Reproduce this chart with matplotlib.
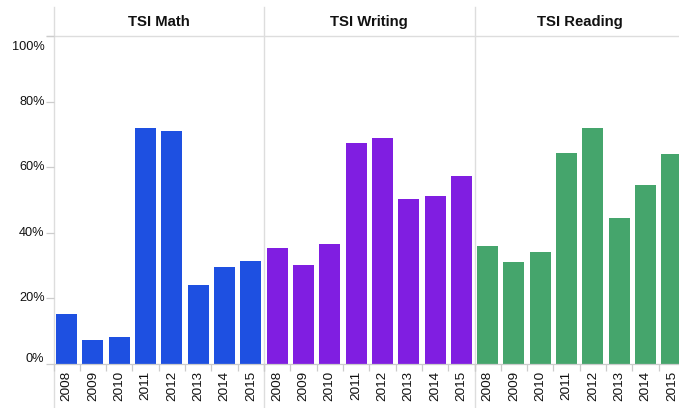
import matplotlib
matplotlib.use("Agg")
import matplotlib.pyplot as plt
from matplotlib.lines import Line2D
from matplotlib.transforms import ScaledTranslation

plt.rcParams['font.family'] = ['Liberation Sans', 'DejaVu Sans']

years = ["2008", "2009", "2010", "2011", "2012", "2013", "2014", "2015"]
subjects = ["TSI Math", "TSI Writing", "TSI Reading"]
math_vals = [15.3, 7.3, 8.2, 72.1, 71.1, 24.1, 29.6, 31.5]
writing_vals = [35.4, 30.2, 36.6, 67.5, 69.0, 50.4, 51.3, 57.4]
reading_vals = [36.0, 31.1, 34.2, 64.4, 72.1, 44.6, 54.6, 64.1]
colors = ["#1E50E1", "#801EE1", "#45A56C"]
y_ticks = [0, 20, 40, 60, 80, 100]

W, H = 679, 408
fig = plt.figure(figsize=(W / 100, H / 100), dpi=100)

grid_c = "#dddddd"
text_c = "#111111"
panel_left = 53.5
panel_w = 210.5
y_bot = 364
y_top = 36

series = [math_vals, writing_vals, reading_vals]
axes = []
for i, (name, vals, col) in enumerate(zip(subjects, series, colors)):
    l = panel_left + i * panel_w
    ax = fig.add_axes([l / W, (H - y_bot) / H, panel_w / W, (y_bot - y_top) / H])
    axes.append(ax)
    x = list(range(len(years)))
    ax.bar(x, vals, width=0.8, color=col)
    ax.set_xlim(-0.5, len(years) - 0.5)
    ax.set_ylim(0, 100)
    for s in ["top", "right", "left"]:
        ax.spines[s].set_visible(False)
    ax.spines["bottom"].set_color("#cccccc")
    ax.spines["bottom"].set_linewidth(0.9)
    ax.set_xticks(x)
    ax.set_xticklabels(years, rotation=90, fontsize=9.7, color=text_c)
    ax.set_xticks([v - 0.5 for v in range(len(years) + 1)], minor=True)
    ax.tick_params(axis="x", which="major", length=0, pad=5)
    ax.tick_params(axis="x", which="minor", length=5, color="#cccccc", width=0.9)
    ax.set_yticks([])
    ax.patch.set_alpha(0)
    fig.text((l + panel_w / 2) / W, (H - 22) / H, name, ha="center", va="center",
             fontsize=10.7, fontweight="bold", color=text_c)

# y axis on first panel
ax0 = axes[0]
ax0.set_yticks(y_ticks)
ax0.set_yticklabels([])
ax0.tick_params(axis="y", length=6, color="#cccccc", width=0.9)
tr = ax0.get_yaxis_transform()
for v in y_ticks:
    lab = f"{v}%"
    if v == 0:
        t = tr + ScaledTranslation(-9 / 100, 2 / 100, fig.dpi_scale_trans)
        ax0.text(0, v, lab, transform=t, ha="right", va="baseline", fontsize=9.2, color=text_c)
    elif v == 100:
        t = tr + ScaledTranslation(-9 / 100, -14.5 / 100, fig.dpi_scale_trans)
        ax0.text(0, v, lab, transform=t, ha="right", va="baseline", fontsize=9.2, color=text_c)
    else:
        t = tr + ScaledTranslation(-9 / 100, 0, fig.dpi_scale_trans)
        ax0.text(0, v, lab, transform=t, ha="right", va="center", fontsize=9.2, color=text_c)

# panel separators and header line
for i in range(3):
    xl = (panel_left + i * panel_w) / W
    fig.add_artist(Line2D([xl, xl], [0, (H - 7) / H], color=grid_c, lw=1.0, zorder=0))
fig.add_artist(Line2D([47 / W, 1], [(H - y_top) / H, (H - y_top) / H], color=grid_c, lw=1.0, zorder=0))

fig.savefig("out.png", dpi=100)
